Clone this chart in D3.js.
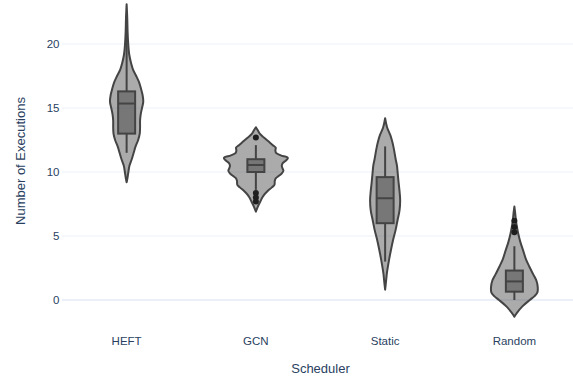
<!DOCTYPE html>
<html>
<head>
<meta charset="utf-8">
<script src="https://cdn.jsdelivr.net/npm/d3@7"></script>
<style>
  html, body { margin: 0; padding: 0; background: #fff; }
  svg { display: block; font-family: "Liberation Sans", Arial, sans-serif; }
</style>
</head>
<body>
<svg id="chart" width="573" height="376"></svg>
<script>
// Schedulers on the x axis
const schedulers = ["HEFT", "GCN", "Static", "Random"];
const yTicks = [0, 5, 10, 15, 20];

// Kernel density profiles: [number of executions, relative density]
const heftProfile = [
  [23.1, 0], [22, 0.02], [21, 0.03], [20, 0.05], [19.2, 0.08], [18.5, 0.14],
  [18.0, 0.2], [17.5, 0.3], [17.0, 0.39], [16.5, 0.45], [16.0, 0.5], [15.5, 0.52],
  [15.0, 0.48], [14.5, 0.44], [14.0, 0.42], [13.5, 0.42], [13.0, 0.41], [12.5, 0.36],
  [12.0, 0.28], [11.5, 0.22], [11.0, 0.16], [10.5, 0.09], [10.0, 0.055], [9.5, 0.025], [9.2, 0]
];
const gcnProfile = [
  [13.5, 0], [13.3, 0.05], [13.0, 0.12], [12.7, 0.25], [12.4, 0.39], [12.1, 0.53],
  [11.9, 0.62], [11.7, 0.61], [11.5, 0.63], [11.3, 0.78], [11.1, 1.0], [10.9, 0.94],
  [10.7, 0.84], [10.5, 0.81], [10.3, 0.83], [10.1, 0.86], [9.9, 0.81], [9.7, 0.72],
  [9.5, 0.62], [9.3, 0.59], [9.0, 0.58], [8.8, 0.5], [8.5, 0.36], [8.2, 0.25],
  [8.0, 0.2], [7.7, 0.14], [7.4, 0.08], [7.1, 0.03], [6.9, 0]
];
const staticProfile = [
  [14.2, 0], [13.5, 0.06], [12.9, 0.16], [12.4, 0.22], [11.85, 0.27], [11.0, 0.33],
  [10.5, 0.37], [10.0, 0.39], [9.2, 0.42], [8.5, 0.45], [7.8, 0.47], [7.0, 0.45],
  [6.25, 0.39], [5.5, 0.33], [4.7, 0.25], [4.0, 0.19], [3.1, 0.12], [2.1, 0.055],
  [1.5, 0.03], [0.8, 0]
];
const randomProfile = [
  [7.3, 0], [6.8, 0.025], [6.2, 0.05], [5.7, 0.08], [5.2, 0.12], [4.5, 0.19],
  [3.9, 0.27], [3.2, 0.36], [2.6, 0.47], [2.0, 0.59], [1.5, 0.69], [1.0, 0.73],
  [0.6, 0.72], [0.3, 0.63], [0.0, 0.48], [-0.5, 0.25], [-1.0, 0.08], [-1.3, 0]
];

// Box statistics: [lower whisker, Q1, median, Q3, upper whisker]
const heftBox = [11.5, 13.0, 15.35, 16.3, 21.0];
const gcnBox = [8.6, 10.0, 10.55, 11.0, 12.1];
const staticBox = [3.0, 6.0, 7.95, 9.6, 12.0];
const randomBox = [0.0, 0.65, 1.45, 2.3, 4.2];

// Outlying runs
const heftOutliers = [];
const gcnOutliers = [12.7, 8.35, 8.0, 7.7];
const staticOutliers = [];
const randomOutliers = [5.3, 5.7, 6.2];

const profiles = [heftProfile, gcnProfile, staticProfile, randomProfile];
const boxes = [heftBox, gcnBox, staticBox, randomBox];
const outliers = [heftOutliers, gcnOutliers, staticOutliers, randomOutliers];

const svg = d3.select("#chart");
const plot = { left: 62, right: 579, top: 0, bottom: 322 };

const x = d3.scaleBand().domain(schedulers).range([plot.left, plot.right]).padding(0);
const y = d3.scaleLinear().domain([-1.72, 23.44]).range([plot.bottom, plot.top]);
const w = d3.scaleLinear().domain([0, 1]).range([0, 32]);
const boxHalf = 8.5;

const ink = "#444";
const fontColor = "#2a3f5f";

// Horizontal grid
svg.append("g").selectAll("line").data(yTicks).join("line")
  .attr("x1", plot.left).attr("x2", plot.right)
  .attr("y1", d => y(d)).attr("y2", d => y(d))
  .attr("stroke", "#ebf0f8")
  .attr("stroke-width", d => d === 0 ? 2 : 1);

// Y axis tick labels
svg.append("g").selectAll("text").data(yTicks).join("text")
  .attr("x", 59.5).attr("y", d => y(d)).attr("dy", "0.35em")
  .attr("text-anchor", "end")
  .attr("font-size", 11.5).attr("fill", fontColor)
  .text(d => d);

// X axis tick labels
svg.append("g").selectAll("text").data(schedulers).join("text")
  .attr("x", d => x(d) + x.bandwidth() / 2).attr("y", 341).attr("dy", "0.35em")
  .attr("text-anchor", "middle")
  .attr("font-size", 11.5).attr("fill", fontColor)
  .text(d => d);

// Axis titles
svg.append("text")
  .attr("x", (plot.left + plot.right) / 2).attr("y", 368).attr("dy", "0.35em")
  .attr("text-anchor", "middle").attr("font-size", 13).attr("fill", fontColor)
  .text("Scheduler");
svg.append("text")
  .attr("transform", `translate(20,${(plot.top + plot.bottom) / 2}) rotate(-90)`)
  .attr("dy", "0.35em")
  .attr("text-anchor", "middle").attr("font-size", 13).attr("fill", fontColor)
  .text("Number of Executions");

// Violins
const violinArea = d3.area()
  .y(d => y(d[0]))
  .x0(d => -w(d[1]))
  .x1(d => w(d[1]))
  .curve(d3.curveCatmullRom);

schedulers.forEach((name, i) => {
  const cx = x(name) + x.bandwidth() / 2;
  const g = svg.append("g").attr("transform", `translate(${cx},0)`);
  const [lo, q1, med, q3, hi] = boxes[i];

  g.append("path")
    .datum(profiles[i])
    .attr("d", violinArea)
    .attr("fill", ink).attr("fill-opacity", 0.45)
    .attr("stroke", ink).attr("stroke-width", 2).attr("stroke-linejoin", "round");

  // whiskers
  g.append("line").attr("x1", 0).attr("x2", 0)
    .attr("y1", y(hi)).attr("y2", y(q3))
    .attr("stroke", ink).attr("stroke-width", 2);
  g.append("line").attr("x1", 0).attr("x2", 0)
    .attr("y1", y(q1)).attr("y2", y(lo))
    .attr("stroke", ink).attr("stroke-width", 2);

  // inner box
  g.append("rect")
    .attr("x", -boxHalf).attr("width", boxHalf * 2)
    .attr("y", y(q3)).attr("height", y(q1) - y(q3))
    .attr("fill", ink).attr("fill-opacity", 0.5)
    .attr("stroke", ink).attr("stroke-width", 2);
  g.append("line")
    .attr("x1", -boxHalf).attr("x2", boxHalf)
    .attr("y1", y(med)).attr("y2", y(med))
    .attr("stroke", ink).attr("stroke-width", 2);

  // outlier points
  g.selectAll("circle").data(outliers[i]).join("circle")
    .attr("cx", 0).attr("cy", d => y(d)).attr("r", 3)
    .attr("fill", "#1e1e1e");
});
</script>
</body>
</html>
